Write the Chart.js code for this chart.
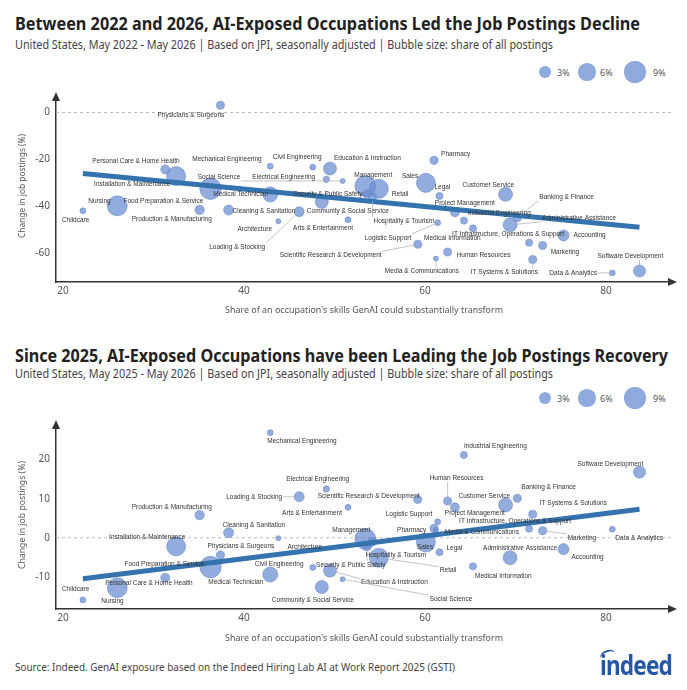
<!DOCTYPE html>
<html>
<head>
<meta charset="utf-8">
<script src="https://cdn.jsdelivr.net/npm/chart.js@4.4.1/dist/chart.umd.min.js"></script>
<style>
  body { margin: 0; background: #fff; width: 687px; height: 690px; position: relative; overflow: hidden; font-family: "Noto Sans", sans-serif; }
  .t { position: absolute; white-space: nowrap; line-height: 1; transform-origin: 0 50%; }
  .title { font-weight: 700; font-size: 17px; color: #222; }
  .sub { font-size: 12px; color: #444; }
  .axt { font-size: 9.5px; color: #555; }
  .legt { font-size: 9px; color: #555; }
  .src { font-size: 11.5px; color: #444; }
  .dot { position: absolute; border-radius: 50%; background: rgba(104,140,208,0.75); }
  canvas { position: absolute; left: 0; }
</style>
</head>
<body>
<canvas id="chart2022" width="687" height="240" style="top:85px"></canvas>
<canvas id="chart2025" width="687" height="240" style="top:413px"></canvas>
<script>
// data
const occupations = [
  'Physicians & Surgeons', 'Personal Care & Home Health', 'Mechanical Engineering', 'Civil Engineering',
  'Education & Instruction', 'Pharmacy', 'Installation & Maintenance', 'Social Science',
  'Electrical Engineering', 'Management', 'Sales', 'Legal', 'Customer Service', 'Retail',
  'Banking & Finance', 'Nursing', 'Food Preparation & Service', 'Medical Technician',
  'Security & Public Safety', 'Community & Social Service', 'Project Management', 'Industrial Engineering',
  'Administrative Assistance', 'Childcare', 'Production & Manufacturing', 'Cleaning & Sanitation',
  'Hospitality & Tourism', 'Architecture', 'Arts & Entertainment', 'Logistic Support',
  'Medical Information', 'IT Infrastructure, Operations & Support', 'Accounting', 'Loading & Stocking',
  'Scientific Research & Development', 'Human Resources', 'Marketing', 'Software Development',
  'Media & Communications', 'IT Systems & Solutions', 'Data & Analytics'
];
const aiExposure = [
  37.4, 31.3, 42.9, 47.6, 49.5, 61.0, 32.5, 50.9, 49.1, 53.4, 60.1, 61.6, 68.9, 54.9,
  70.2, 26.0, 36.3, 42.9, 53.6, 48.6, 63.3, 64.3, 69.4, 22.2, 35.1, 38.3, 54.2, 43.8,
  51.5, 61.4, 65.3, 71.5, 75.3, 46.1, 59.2, 62.5, 73.0, 83.7, 61.2, 71.9, 80.7
];
const change2022 = [
  3.1, -24.3, -22.9, -23.3, -23.9, -20.4, -27.1, -29.2, -28.5, -31.4, -30.0, -35.6, -34.9, -32.5,
  -44.9, -39.8, -32.5, -34.9, -34.7, -38.1, -42.6, -46.1, -47.9, -41.9, -41.5, -41.6, -36.0, -46.4,
  -45.7, -47.0, -49.4, -55.5, -52.4, -42.3, -56.2, -59.5, -56.7, -67.6, -62.3, -62.7, -68.4
];
const change2025 = [
  -4.4, -10.2, 26.9, -7.6, -8.4, 2.4, -2.2, -10.6, 12.5, -0.3, -1.2, -3.7, 8.4, -5.1,
  10.1, -12.8, -7.5, -9.4, -2.3, -12.6, 7.8, 21.2, -5.1, -15.9, 5.8, 1.3, -1.0, -0.1,
  7.8, 4.1, -7.3, 2.3, -2.9, 10.5, 9.8, 9.4, 1.8, 16.8, 2.0, 6.0, 2.2
];
const postingShare = [
  1.3, 1.6, 0.7, 0.7, 3.4, 1.3, 7.2, 0.5, 0.8, 8.7, 7.2, 1.0, 3.9, 7.2,
  1.3, 7.9, 9.1, 4.5, 1.3, 3.4, 1.6, 1.0, 3.9, 0.7, 1.75, 2.0, 1.3, 0.5,
  0.7, 0.7, 1.0, 1.0, 2.4, 2.0, 1.3, 1.3, 1.3, 2.9, 0.5, 1.3, 0.7
];
const trendX = [22.2, 83.7];
const trend2022 = [-26.0, -48.9];
const trend2025 = [-10.5, 7.3];
const xTicks = [20, 40, 60, 80];
const yTicks2022 = [0, -20, -40, -60];
const yTicks2025 = [-10, 0, 10, 20];
const legendShares = [3, 6, 9];

// label placement: [dx, dy, leader line]
const labels2022 = {
  'Physicians & Surgeons': [-63, 10], 'Personal Care & Home Health': [-73, -8], 'Mechanical Engineering': [-78, -7],
  'Civil Engineering': [-40, -10], 'Education & Instruction': [4, -10], 'Pharmacy': [7, -6],
  'Installation & Maintenance': [-82, 8], 'Social Science': [-145, -4, 1], 'Electrical Engineering': [-74, -2],
  'Management': [-11, -11], 'Sales': [-24, -7], 'Legal': [-5, -9], 'Customer Service': [-43, -9],
  'Retail': [13, 5], 'Banking & Finance': [22, -21, 1], 'Nursing': [-29, -5],
  'Food Preparation & Service': [-87, 12], 'Medical Technician': [-57, 0], 'Security & Public Safety': [-74, 0],
  'Community & Social Service': [-15, 9], 'Project Management': [-20, -9], 'Industrial Engineering': [4, -7],
  'Administrative Assistance': [32, -7, 1], 'Childcare': [-21, 9], 'Production & Manufacturing': [-68, 9],
  'Cleaning & Sanitation': [4, 1], 'Hospitality & Tourism': [1, 24, 1], 'Architecture': [-41, 8],
  'Arts & Entertainment': [-55, 9], 'Logistic Support': [-73, 15, 1], 'Medical Information': [-49, 10],
  'IT Infrastructure, Operations & Support': [-77, -8], 'Accounting': [10, 0], 'Loading & Stocking': [-90, 35, 1],
  'Scientific Research & Development': [-138, 11, 1], 'Human Resources': [9, 3], 'Marketing': [8, 7],
  'Software Development': [-42, -15, 1], 'Media & Communications': [-51, 13, 1],
  'IT Systems & Solutions': [-62, 13, 1], 'Data & Analytics': [-63, 0, 1]
};
const labels2025 = {
  'Physicians & Surgeons': [-13, -9], 'Personal Care & Home Health': [-60, 6], 'Mechanical Engineering': [-3, 9],
  'Civil Engineering': [-58, -3], 'Education & Instruction': [31, 12, 1], 'Pharmacy': [-37, 2],
  'Installation & Maintenance': [-67, -9], 'Social Science': [87, 20, 1], 'Electrical Engineering': [-40, -10],
  'Management': [-33, -9], 'Sales': [-9, 5], 'Legal': [7, -4], 'Customer Service': [-47, -9],
  'Retail': [61, 13, 1], 'Banking & Finance': [4, -11], 'Nursing': [-16, 13],
  'Food Preparation & Service': [-86, -3], 'Medical Technician': [-62, 8], 'Security & Public Safety': [-51, 18, 1],
  'Community & Social Service': [-50, 13], 'Project Management': [-10, 6], 'Industrial Engineering': [0, -9],
  'Administrative Assistance': [-27, -9], 'Childcare': [-21, -11], 'Production & Manufacturing': [-68, -8],
  'Cleaning & Sanitation': [-6, -7], 'Hospitality & Tourism': [-7, 14], 'Architecture': [9, 9],
  'Arts & Entertainment': [-66, 6], 'Logistic Support': [-52, -8], 'Medical Information': [2, 10],
  'IT Infrastructure, Operations & Support': [-70, -8], 'Accounting': [8, 8], 'Loading & Stocking': [-73, 0, 1],
  'Scientific Research & Development': [-100, -3], 'Human Resources': [-18, -23, 1], 'Marketing': [25, 7, 1],
  'Software Development': [-62, -8], 'Media & Communications': [9, 2],
  'IT Systems & Solutions': [7, -11], 'Data & Analytics': [3, 9]
};

const bubbleColor = 'rgba(104,140,208,0.72)';
function bubbleR(share) { return 3.55 * Math.sqrt(share); }

// zero line, axis arrows and point labels
const decorPlugin = {
  id: 'decor',
  beforeDatasetsDraw(chart) {
    const ctx = chart.ctx, a = chart.chartArea;
    const y0 = chart.scales.y.getPixelForValue(0);
    ctx.save();
    ctx.strokeStyle = '#bbb';
    ctx.lineWidth = 1;
    ctx.setLineDash([3, 3]);
    ctx.beginPath();
    ctx.moveTo(a.left, y0);
    ctx.lineTo(a.right, y0);
    ctx.stroke();
    ctx.restore();
  },
  afterDatasetsDraw(chart, args, opts) {
    const ctx = chart.ctx, xs = chart.scales.x, ys = chart.scales.y;
    const yVals = opts.yKey === '2022' ? change2022 : change2025;
    const pos = opts.yKey === '2022' ? labels2022 : labels2025;
    ctx.save();
    ctx.font = '6.5px "Liberation Sans", Arial, sans-serif';
    ctx.textBaseline = 'middle';
    occupations.forEach((name, i) => {
      const p = pos[name];
      if (!p) return;
      const px = xs.getPixelForValue(aiExposure[i]);
      const py = ys.getPixelForValue(yVals[i]);
      const lx = px + p[0], ly = py + p[1];
      const w = ctx.measureText(name).width;
      if (p[2]) {
        // leader from bubble edge to nearest point of the label
        const ex = Math.min(Math.max(px, lx - 1), lx + w + 1);
        const ey = Math.min(Math.max(py, ly - 4), ly + 4);
        const d = Math.hypot(ex - px, ey - py) || 1;
        const r = bubbleR(postingShare[i]);
        ctx.strokeStyle = '#aaa';
        ctx.lineWidth = 0.7;
        ctx.beginPath();
        ctx.moveTo(px + (ex - px) / d * r, py + (ey - py) / d * r);
        ctx.lineTo(ex, ey);
        ctx.stroke();
      }
      ctx.fillStyle = '#333';
      ctx.fillText(name, lx, ly);
    });
    ctx.restore();
  },
  afterDraw(chart) {
    const ctx = chart.ctx, a = chart.chartArea;
    ctx.save();
    ctx.fillStyle = '#333';
    ctx.beginPath();
    ctx.moveTo(a.left, a.top - 5);
    ctx.lineTo(a.left - 4, a.top + 4);
    ctx.lineTo(a.left + 4, a.top + 4);
    ctx.fill();
    ctx.beginPath();
    ctx.moveTo(a.right + 5, a.bottom);
    ctx.lineTo(a.right - 4, a.bottom - 4);
    ctx.lineTo(a.right - 4, a.bottom + 4);
    ctx.fill();
    ctx.restore();
  }
};

function makeChart(id, key, yVals, trendY, yMin, yMax, yTicks, xh) {
  const pts = occupations.map((n, i) => ({ x: aiExposure[i], y: yVals[i], r: bubbleR(postingShare[i]) }));
  return new Chart(document.getElementById(id), {
    type: 'bubble',
    data: {
      datasets: [
        {
          type: 'line',
          data: trendX.map((x, i) => ({ x: x, y: trendY[i] })),
          borderColor: '#3473ad',
          borderWidth: 5,
          pointRadius: 0,
          order: 0
        },
        {
          type: 'bubble',
          data: pts,
          backgroundColor: bubbleColor,
          borderColor: 'rgba(95,130,200,0.85)',
          borderWidth: 0.6,
          hoverRadius: 0,
          order: 1
        }
      ]
    },
    options: {
      responsive: false,
      animation: false,
      events: [],
      layout: { padding: { left: 0, right: 15, top: 10, bottom: 0 } },
      plugins: {
        legend: { display: false },
        tooltip: { enabled: false },
        decor: { yKey: key }
      },
      scales: {
        x: {
          type: 'linear',
          min: 19.23,
          max: 87.29,
          afterBuildTicks: s => { s.ticks = xTicks.map(v => ({ value: v })); },
          afterFit: s => { s.height = xh; },
          grid: { display: false, drawTicks: false },
          border: { display: true, color: '#333', width: 1.5 },
          ticks: { color: '#555', font: { family: 'Noto Sans', size: 10 }, padding: 3 }
        },
        y: {
          type: 'linear',
          min: yMin,
          max: yMax,
          afterBuildTicks: s => { s.ticks = yTicks.map(v => ({ value: v })); },
          afterFit: s => { s.width = 56; },
          grid: { display: false, drawTicks: false },
          border: { display: true, color: '#333', width: 1.5 },
          ticks: { color: '#555', font: { family: 'Noto Sans', size: 10 }, padding: 6 }
        }
      }
    },
    plugins: [decorPlugin]
  });
}

// html text, squeezed to the reference width
function addText(txt, cls, x, cy, w) {
  const el = document.createElement('div');
  el.className = 't ' + cls;
  el.textContent = txt;
  document.body.appendChild(el);
  const h = el.getBoundingClientRect().height;
  el.style.left = x + 'px';
  el.style.top = (cy - h / 2) + 'px';
  if (w) el.style.transform = 'scaleX(' + (w / el.getBoundingClientRect().width) + ')';
  return el;
}
function addYTitle(txt, cx, cy, len) {
  const el = document.createElement('div');
  el.className = 't axt';
  el.textContent = txt;
  document.body.appendChild(el);
  const k = len / el.getBoundingClientRect().width;
  el.style.left = cx + 'px';
  el.style.top = cy + 'px';
  el.style.transformOrigin = '50% 50%';
  el.style.transform = 'translate(-50%,-50%) rotate(-90deg) scaleX(' + k + ')';
}
function addLegend(cy) {
  const cx = [545, 587, 635];
  legendShares.forEach((s, i) => {
    const r = bubbleR(s);
    const d = document.createElement('div');
    d.className = 'dot';
    d.style.left = (cx[i] - r) + 'px';
    d.style.top = (cy - r) + 'px';
    d.style.width = d.style.height = (2 * r) + 'px';
    document.body.appendChild(d);
    addText(s + '%', 'legt', cx[i] + 12 + (i == 2 ? 6 : i), cy);
  });
}

addText('Between 2022 and 2026, AI-Exposed Occupations Led the Job Postings Decline', 'title', 15, 23, 625);
addText('United States, May 2022 - May 2026 | Based on JPI, seasonally adjusted | Bubble size: share of all postings', 'sub', 15, 45, 538);
addLegend(72);
addYTitle('Change in job postings (%)', 22, 186, 104);
addText("Share of an occupation's skills GenAI could substantially transform", 'axt', 225, 310, 278);

addText('Since 2025, AI-Exposed Occupations have been Leading the Job Postings Recovery', 'title', 15, 355, 653);
addText('United States, May 2025 - May 2026 | Based on JPI, seasonally adjusted | Bubble size: share of all postings', 'sub', 15, 374, 538);
addLegend(398);
addYTitle('Change in job postings (%)', 22, 515, 108);
addText("Share of an occupation's skills GenAI could substantially transform", 'axt', 225, 638, 278);

addText('Source: Indeed. GenAI exposure based on the Indeed Hiring Lab AI at Work Report 2025 (GSTI)', 'src', 15, 667, 440);
const logo = addText('indeed', 'title', 600, 664, 72);
logo.style.color = '#2557a7';
logo.style.fontSize = '27px';
logo.style.letterSpacing = '-1px';
logo.style.transform = '';
logo.style.top = (664 - logo.getBoundingClientRect().height / 2) + 'px';
logo.style.transform = 'scaleX(' + (72 / logo.getBoundingClientRect().width) + ')';
const arc = document.createElement('div');
arc.style.cssText = 'position:absolute;left:600px;top:650px;width:16px;height:10px;border-top:2.5px solid #2557a7;border-radius:50% 50% 0 0;transform:rotate(-20deg);';
document.body.appendChild(arc);

makeChart('chart2022', '2022', change2022, trend2022, -72.28, 6.62, yTicks2022, 43);
makeChart('chart2025', '2025', change2025, trend2025, -18.23, 28.86, yTicks2025, 44);
</script>
</body>
</html>
